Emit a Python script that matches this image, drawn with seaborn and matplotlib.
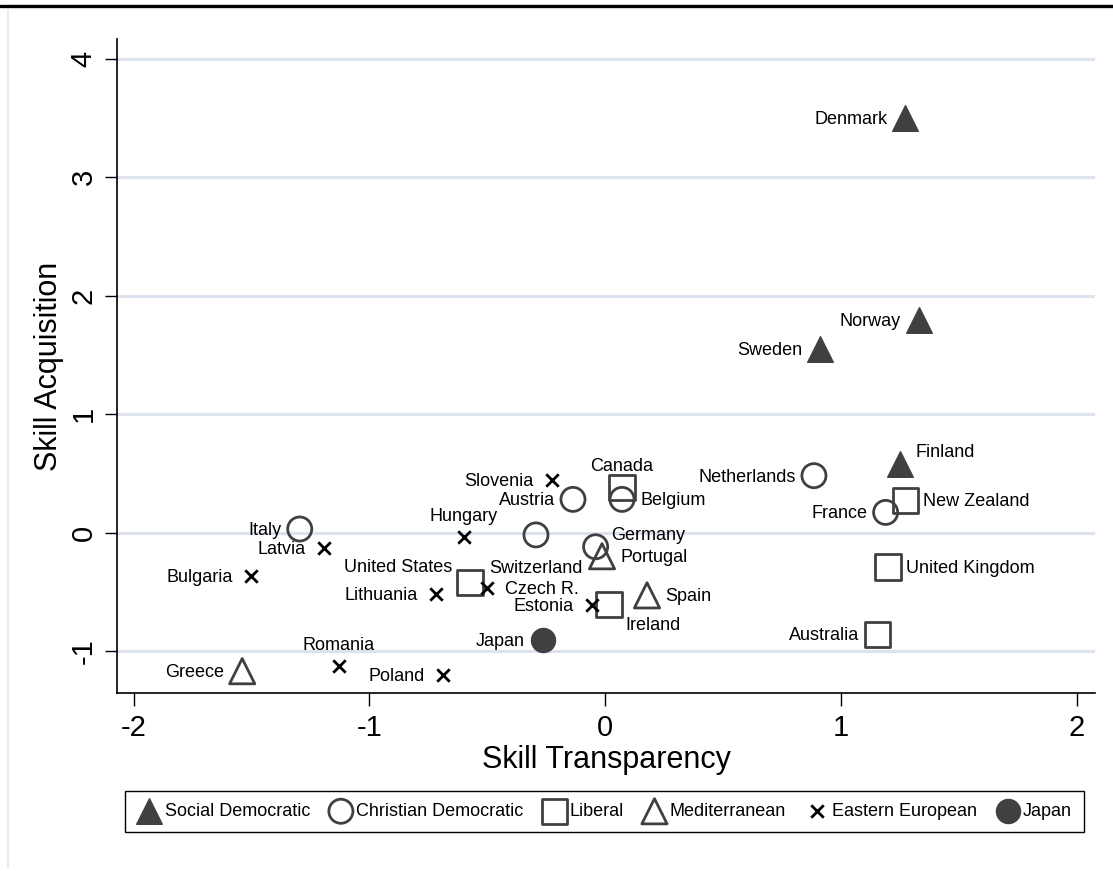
import matplotlib
matplotlib.use("Agg")
import matplotlib.pyplot as plt
from matplotlib.lines import Line2D
import pandas as pd
import seaborn as sns

# data
countries = ["Denmark", "Norway", "Sweden", "Finland",
             "Netherlands", "France", "Belgium", "Austria", "Switzerland", "Germany", "Italy",
             "New Zealand", "United Kingdom", "Australia", "Canada", "United States", "Ireland",
             "Portugal", "Spain", "Greece",
             "Slovenia", "Hungary", "Latvia", "Bulgaria", "Lithuania", "Czech R.", "Estonia",
             "Romania", "Poland",
             "Japan"]
regime = (["Social Democratic"] * 4 + ["Christian Democratic"] * 7 + ["Liberal"] * 6
          + ["Mediterranean"] * 3 + ["Eastern European"] * 9 + ["Japan"])
transparency = [1.274, 1.33, 0.913, 1.25,
                0.886, 1.19, 0.072, -0.136, -0.293, -0.04, -1.295,
                1.274, 1.20, 1.154, 0.072, -0.573, 0.017,
                -0.013, 0.178, -1.539,
                -0.225, -0.599, -1.193, -1.503, -0.718, -0.50, -0.055, -1.13, -0.688,
                -0.263]
acquisition = [3.50, 1.79, 1.55, 0.58,
               0.48, 0.17, 0.28, 0.28, -0.02, -0.12, 0.03,
               0.27, -0.29, -0.86, 0.38, -0.42, -0.61,
               -0.20, -0.53, -1.17,
               0.44, -0.04, -0.13, -0.37, -0.52, -0.47, -0.61, -1.13, -1.20,
               -0.91]
# Stata-like clock positions for the marker labels
label_clock = [9, 9, 9, 1,
               9, 9, 3, 9, 6, 1, 9,
               3, 3, 9, 12, 11, 5,
               3, 3, 9,
               9, 12, 9, 9, 9, 3, 9, 12, 9,
               9]

regime_order = ["Social Democratic", "Christian Democratic", "Liberal",
                "Mediterranean", "Eastern European", "Japan"]

DARK = "#404040"
STYLES = {
    "Social Democratic":    dict(marker="^", s=340, color=DARK, edgecolor=DARK, linewidth=1.0),
    "Christian Democratic": dict(marker="o", s=300, color=DARK, facecolor="none", edgecolor=DARK, linewidth=2.0),
    "Liberal":              dict(marker="s", s=330, color=DARK, facecolor="none", edgecolor=DARK, linewidth=2.0),
    "Mediterranean":        dict(marker="^", s=330, color=DARK, facecolor="none", edgecolor=DARK, linewidth=2.0),
    "Eastern European":     dict(marker="x", s=80, color="black", linewidth=2.0),
    "Japan":                dict(marker="o", s=300, color=DARK, edgecolor=DARK, linewidth=1.0),
}
CLOCK = {
    9: (-13, -1, "right", "center"),
    3: (13, -1, "left", "center"),
    12: (0, 9, "center", "bottom"),
    1: (11, 8, "left", "center"),
    11: (-13, 11, "right", "center"),
    5: (12, -15, "left", "center"),
    6: (0, -18, "center", "top"),
}

df = pd.DataFrame({"country": countries, "regime": regime,
                   "transparency": transparency, "acquisition": acquisition,
                   "clock": label_clock})

sns.set_theme(style="white")
plt.rcParams["font.family"] = ["Liberation Sans", "DejaVu Sans"]
plt.rcParams["axes.unicode_minus"] = False
plt.rcParams["text.color"] = "black"
plt.rcParams["axes.labelcolor"] = "black"
plt.rcParams["xtick.color"] = "black"
plt.rcParams["ytick.color"] = "black"

fig = plt.figure(figsize=(11.13, 8.71), dpi=100)
ax = fig.add_axes([117 / 1113, 1 - 693 / 871, (1095 - 117) / 1113, (693 - 39) / 871])

for g in regime_order:
    sub = df[df.regime == g]
    sns.scatterplot(data=sub, x="transparency", y="acquisition", ax=ax,
                    label=g, zorder=3, **STYLES[g])

for _, r in df.iterrows():
    dx, dy, ha, va = CLOCK[r.clock]
    ax.annotate(r.country, (r.transparency, r.acquisition), xytext=(dx, dy),
                textcoords="offset points", ha=ha, va=va, fontsize=13, color="black")

ax.set_xlim(-2.07, 2.078)
ax.set_ylim(-1.354, 4.165)
ax.set_xticks([-2, -1, 0, 1, 2])
ax.set_yticks([-1, 0, 1, 2, 3, 4])
ax.yaxis.grid(True, color="#dde3ee", linewidth=2.2, zorder=0)
ax.xaxis.grid(False)
ax.set_axisbelow(True)
sns.despine(ax=ax)
for sp in ("left", "bottom"):
    ax.spines[sp].set_color("black")
    ax.spines[sp].set_linewidth(1.2)
ax.tick_params(axis="x", direction="out", length=9, width=1, color="black",
               labelsize=21, pad=6, bottom=True)
ax.tick_params(axis="y", direction="out", length=9, width=1, color="black",
               labelsize=21, pad=5, labelrotation=90, left=True)
for t in ax.get_yticklabels():
    t.set_va("center")
ax.set_xlabel("Skill Transparency", fontsize=22, labelpad=2, color="black")
ax.set_ylabel("Skill Acquisition", fontsize=22, labelpad=4, color="black")

if ax.get_legend() is not None:
    ax.get_legend().remove()
handles, labels = ax.get_legend_handles_labels()
leg = fig.legend(handles, labels, loc="center",
                 bbox_to_anchor=(604.5 / 1113, 1 - 811.5 / 871), ncol=6,
                 frameon=True, fancybox=False, edgecolor="black", framealpha=1,
                 fontsize=13, borderpad=0.65, handletextpad=0.15,
                 columnspacing=1.0, handlelength=1.4, borderaxespad=0)
leg.get_frame().set_linewidth(1.0)

# outer graph edges visible in the original export
fig.add_artist(Line2D([0, 1], [1 - 6.5 / 871, 1 - 6.5 / 871], color="black", linewidth=2.4))
fig.add_artist(Line2D([8 / 1113, 8 / 1113], [1 - 10 / 871, 1 - 868 / 871], color="#e4e8f0", linewidth=1.2))

fig.savefig("out.png", dpi=100)
